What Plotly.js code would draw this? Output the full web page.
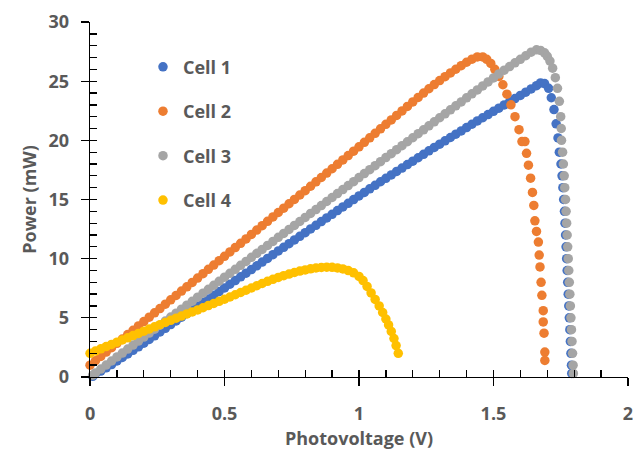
<!DOCTYPE html>
<html>
<head>
<meta charset="utf-8">
<script src="https://cdn.plot.ly/plotly-3.0.1.min.js"></script>
<style>html,body{margin:0;padding:0;background:#fff;}#chart{width:633px;height:452px;}</style>
</head>
<body>
<div id="chart"></div>
<script>
// ---- data ----
const seriesNames = ["Cell 1", "Cell 2", "Cell 3", "Cell 4"];
const seriesColors = ["#4472C4", "#ED7D31", "#A5A5A5", "#FFC000"];

const cell1V = [0.01,0.02,0.04,0.06,0.08,0.10,0.12,0.14,0.16,0.18,0.20,0.22,0.24,0.26,0.28,0.30,0.32,0.34,0.36,0.38,0.40,0.42,0.44,0.46,0.48,0.50,0.52,0.54,0.56,0.58,0.60,0.62,0.64,0.66,0.68,0.70,0.72,0.74,0.76,0.78,0.80,0.82,0.84,0.86,0.88,0.90,0.92,0.94,0.96,0.98,1.00,1.02,1.04,1.06,1.08,1.10,1.12,1.14,1.16,1.18,1.20,1.22,1.24,1.26,1.28,1.30,1.32,1.34,1.36,1.38,1.40,1.42,1.44,1.46,1.48,1.50,1.52,1.54,1.56,1.58,1.60,1.62,1.64,1.66,1.675,1.69,1.705,1.715,1.725,1.733,1.740,1.745,1.751,1.755,1.758,1.761,1.764,1.766,1.768,1.770,1.772,1.774,1.776,1.778,1.780,1.782,1.784,1.786,1.788,1.790,1.791];
const cell1P = [0.05,0.25,0.50,0.77,1.05,1.35,1.65,1.95,2.25,2.55,2.86,3.17,3.48,3.80,4.11,4.43,4.74,5.05,5.36,5.67,5.98,6.29,6.60,6.91,7.22,7.53,7.84,8.15,8.46,8.77,9.08,9.39,9.71,10.02,10.34,10.65,10.96,11.27,11.58,11.89,12.20,12.51,12.82,13.13,13.44,13.75,14.06,14.37,14.68,14.99,15.30,15.60,15.90,16.20,16.50,16.79,17.08,17.37,17.66,17.95,18.24,18.53,18.82,19.11,19.40,19.68,19.96,20.24,20.52,20.80,21.08,21.36,21.64,21.91,22.18,22.45,22.72,22.99,23.26,23.53,23.80,24.07,24.35,24.62,24.85,24.80,24.40,23.60,22.60,21.40,20.20,19.00,18.00,17.00,16.00,15.00,14.00,13.00,12.00,11.00,10.00,9.00,8.00,7.00,6.00,5.00,4.00,3.00,2.00,1.00,0.30];

const cell2V = [0.00,0.02,0.04,0.06,0.08,0.10,0.12,0.14,0.16,0.18,0.20,0.22,0.24,0.26,0.28,0.30,0.32,0.34,0.36,0.38,0.40,0.42,0.44,0.46,0.48,0.50,0.52,0.54,0.56,0.58,0.60,0.62,0.64,0.66,0.68,0.70,0.72,0.74,0.76,0.78,0.80,0.82,0.84,0.86,0.88,0.90,0.92,0.94,0.96,0.98,1.00,1.02,1.04,1.06,1.08,1.10,1.12,1.14,1.16,1.18,1.20,1.22,1.24,1.26,1.28,1.30,1.32,1.34,1.36,1.38,1.40,1.42,1.44,1.46,1.475,1.49,1.505,1.52,1.535,1.55,1.565,1.58,1.595,1.606,1.617,1.623,1.630,1.638,1.645,1.650,1.654,1.660,1.667,1.670,1.673,1.677,1.680,1.685,1.685,1.688,1.691,1.691];
const cell2P = [1.00,1.37,1.74,2.10,2.47,2.84,3.21,3.58,3.94,4.31,4.68,5.05,5.42,5.78,6.15,6.52,6.89,7.26,7.62,7.99,8.36,8.73,9.10,9.46,9.83,10.20,10.57,10.94,11.30,11.67,12.05,12.42,12.79,13.16,13.53,13.90,14.27,14.64,15.01,15.38,15.75,16.12,16.49,16.86,17.23,17.60,17.97,18.34,18.71,19.08,19.45,19.83,20.21,20.59,20.97,21.35,21.73,22.11,22.49,22.87,23.25,23.63,24.00,24.36,24.71,25.05,25.38,25.70,26.01,26.31,26.60,26.86,27.05,27.05,26.85,26.50,26.00,25.40,24.70,23.90,23.00,22.00,20.90,19.90,19.90,18.90,17.90,16.80,15.60,14.50,13.20,12.30,11.40,10.30,9.30,8.00,6.90,5.60,4.65,3.70,2.10,1.40];

const cell3V = [0.01,0.02,0.04,0.06,0.08,0.10,0.12,0.14,0.16,0.18,0.20,0.22,0.24,0.26,0.28,0.30,0.32,0.34,0.36,0.38,0.40,0.42,0.44,0.46,0.48,0.50,0.52,0.54,0.56,0.58,0.60,0.62,0.64,0.66,0.68,0.70,0.72,0.74,0.76,0.78,0.80,0.82,0.84,0.86,0.88,0.90,0.92,0.94,0.96,0.98,1.00,1.02,1.04,1.06,1.08,1.10,1.12,1.14,1.16,1.18,1.20,1.22,1.24,1.26,1.28,1.30,1.32,1.34,1.36,1.38,1.40,1.42,1.44,1.46,1.48,1.50,1.52,1.54,1.56,1.58,1.60,1.62,1.64,1.66,1.675,1.69,1.70,1.71,1.72,1.73,1.738,1.745,1.750,1.752,1.753,1.757,1.760,1.763,1.765,1.768,1.770,1.772,1.774,1.776,1.778,1.780,1.782,1.784,1.786,1.788,1.790,1.792,1.794,1.796,1.797];
const cell3P = [0.15,0.34,0.67,1.01,1.35,1.69,2.02,2.36,2.70,3.03,3.37,3.71,4.04,4.38,4.72,5.06,5.39,5.73,6.07,6.40,6.74,7.08,7.41,7.75,8.09,8.43,8.76,9.10,9.44,9.77,10.11,10.45,10.78,11.12,11.46,11.80,12.13,12.47,12.81,13.14,13.48,13.82,14.15,14.49,14.83,15.17,15.50,15.84,16.18,16.51,16.85,17.19,17.52,17.86,18.20,18.54,18.87,19.21,19.55,19.88,20.22,20.56,20.89,21.23,21.57,21.91,22.24,22.58,22.92,23.25,23.59,23.93,24.26,24.60,24.94,25.28,25.61,25.93,26.24,26.55,26.85,27.15,27.45,27.65,27.60,27.40,27.10,26.70,26.10,25.30,24.40,23.30,22.00,21.00,20.00,19.00,18.00,17.00,16.00,15.00,14.00,13.00,12.00,11.00,10.00,9.00,8.00,7.00,6.00,5.00,4.00,3.00,2.00,1.00,0.30];

const cell4V = [0.00,0.02,0.04,0.06,0.08,0.10,0.12,0.14,0.16,0.18,0.20,0.22,0.24,0.26,0.28,0.30,0.32,0.34,0.36,0.38,0.40,0.42,0.44,0.46,0.48,0.50,0.52,0.54,0.56,0.58,0.60,0.62,0.64,0.66,0.68,0.70,0.72,0.74,0.76,0.78,0.80,0.82,0.84,0.86,0.88,0.90,0.92,0.94,0.96,0.98,1.00,1.015,1.03,1.045,1.06,1.075,1.088,1.10,1.11,1.12,1.13,1.138,1.146];
const cell4P = [2.00,2.19,2.38,2.57,2.75,2.94,3.13,3.31,3.50,3.68,3.87,4.05,4.24,4.42,4.61,4.79,4.97,5.15,5.33,5.50,5.67,5.85,6.03,6.21,6.39,6.57,6.76,6.95,7.14,7.33,7.52,7.71,7.90,8.08,8.25,8.41,8.56,8.70,8.83,8.95,9.05,9.14,9.21,9.26,9.28,9.27,9.22,9.13,8.99,8.80,8.50,8.15,7.65,7.10,6.55,6.00,5.45,4.90,4.40,3.85,3.25,2.65,2.00];

const xTickVals = [0, 0.5, 1, 1.5, 2];
const xTickText = ["0", "0.5", "1", "1.5", "2"];
const yTickVals = [0, 5, 10, 15, 20, 25, 30];
const yTickText = ["0", "5", "10", "15", "20", "25", "30"];

// ---- chart ----
const xs = [cell1V, cell2V, cell3V, cell4V];
const ys = [cell1P, cell2P, cell3P, cell4P];
const traces = [0, 1, 2, 3].map(i => ({
  type: "scatter", mode: "markers", name: seriesNames[i],
  x: xs[i], y: ys[i], legendgroup: "g" + i, cliponaxis: false,
  marker: {color: seriesColors[i], size: 9.5}
}));
traces.push({type: "scatter", mode: "markers", x: [null], y: [null], xaxis: "x2", yaxis: "y2",
  showlegend: false, hoverinfo: "skip"});

const txtColor = "#595959";
const fontFam = "'Open Sans', 'DejaVu Sans', sans-serif";
const xRange = [-0.0002, 2.0002];
const yRange = [-0.003, 30.003];
const layout = {
  width: 633, height: 452,
  margin: {l: 90, r: 5, t: 22, b: 75},
  paper_bgcolor: "#fff", plot_bgcolor: "#fff",
  showlegend: true,
  legend: {x: 0.0985, y: 0.925, xanchor: "left", yanchor: "top",
    font: {family: fontFam, size: 18, color: txtColor, weight: "bold"},
    tracegroupgap: 18, bgcolor: "rgba(0,0,0,0)"},
  xaxis: {range: xRange, tickvals: xTickVals, ticktext: xTickText,
    ticks: "outside", ticklen: 8, tickwidth: 1.3, tickcolor: "#000",
    showline: true, linecolor: "#000", linewidth: 1.3, showgrid: false, zeroline: false,
    ticklabelstandoff: 12, ticklabeloverflow: "allow",
    tickfont: {family: fontFam, size: 18, color: txtColor, weight: "bold"},
    title: {text: "Photovoltage (V)", standoff: 8,
      font: {family: fontFam, size: 18, color: txtColor, weight: "bold"}}},
  yaxis: {range: yRange, tickvals: yTickVals, ticktext: yTickText,
    ticks: "outside", ticklen: 8, tickwidth: 1.3, tickcolor: "#000",
    showline: true, linecolor: "#000", linewidth: 1.3, showgrid: false, zeroline: false,
    ticklabelstandoff: 8, ticklabeloverflow: "allow",
    tickfont: {family: fontFam, size: 18, color: txtColor, weight: "bold"},
    title: {text: "Power (mW)", standoff: 7,
      font: {family: fontFam, size: 18, color: txtColor, weight: "bold"}}},
  xaxis2: {range: xRange, overlaying: "x", anchor: "y2", dtick: 0.1, tick0: 0,
    ticks: "inside", ticklen: 7, tickwidth: 1.3, tickcolor: "#000",
    showticklabels: false, showgrid: false, zeroline: false, showline: false},
  yaxis2: {range: yRange, overlaying: "y", anchor: "x2", dtick: 1, tick0: 0,
    ticks: "inside", ticklen: 7, tickwidth: 1.3, tickcolor: "#000",
    showticklabels: false, showgrid: false, zeroline: false, showline: false}
};
Plotly.newPlot("chart", traces, layout, {staticPlot: true, displayModeBar: false});
</script>
</body>
</html>
